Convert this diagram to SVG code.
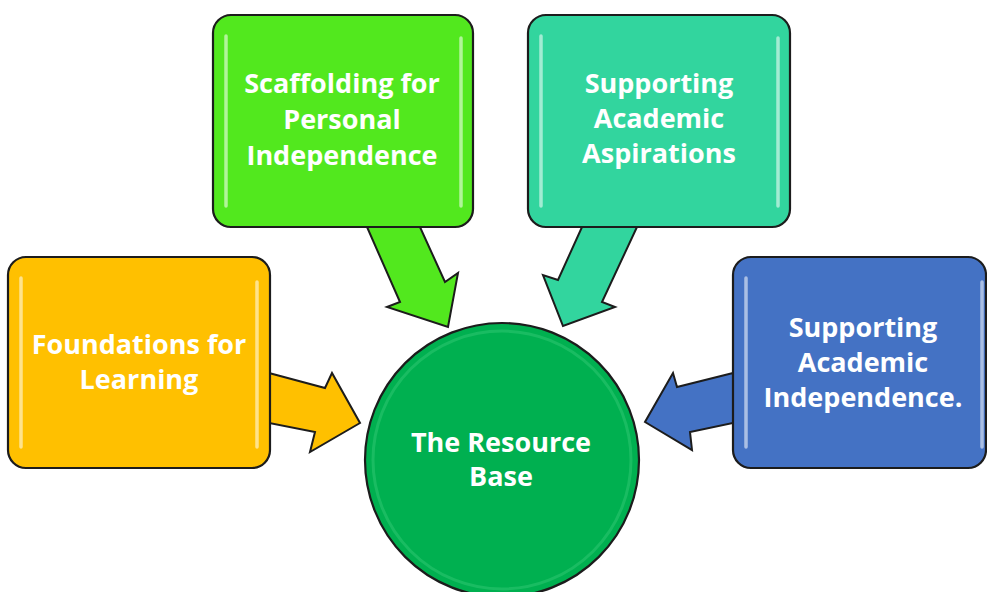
<svg xmlns="http://www.w3.org/2000/svg" width="987" height="592" viewBox="0 0 987 592">
<style>
.box{stroke:#1c1c1c;stroke-width:2.2}
.arrow{stroke:#1c1c1c;stroke-width:2;stroke-linejoin:miter}
.gloss{fill:none;stroke:#ffffff;stroke-opacity:0.55;stroke-width:3.5;stroke-linecap:round}
.lbl{font-family:"Open Sans","Liberation Sans",sans-serif;font-weight:bold;font-size:27px;fill:#ffffff;text-anchor:middle}
.orange{fill:#FFC000}
.lime{fill:#52E81E}
.teal{fill:#32D59E}
.blue{fill:#4472C4}
.green{fill:#00B050}
</style>
<rect width="987" height="592" fill="#ffffff"/>
<g id="connectors">
  <polygon class="arrow orange" points="269,373 325,388 332,373 360,423 310,452 315,432 269,423"/>
  <polygon class="arrow lime" points="367,227 420,227 445,282 458,273 448,327 387,307 400,302"/>
  <polygon class="arrow teal" points="582,227 637,227 602,302 615,307 563,326 543,275 558,280"/>
  <polygon class="arrow blue" points="733,373 677,387 673,373 645,422 692,450 690,432 733,423"/>
</g>
<g id="node-foundations">
  <rect class="box orange" x="8" y="257" width="262" height="211" rx="18"/>
  <line class="gloss" x1="21" y1="278" x2="21" y2="447"/>
  <line class="gloss" x1="257" y1="282" x2="257" y2="447"/>
  <text class="lbl" x="139" y="354">Foundations for</text>
  <text class="lbl" x="139" y="389">Learning</text>
</g>
<g id="node-scaffolding">
  <rect class="box lime" x="213" y="15" width="260" height="212" rx="18"/>
  <line class="gloss" x1="226" y1="36" x2="226" y2="206"/>
  <line class="gloss" x1="461" y1="38" x2="461" y2="206"/>
  <text class="lbl" x="342" y="93">Scaffolding for</text>
  <text class="lbl" x="342" y="129">Personal</text>
  <text class="lbl" x="342" y="165">Independence</text>
</g>
<g id="node-aspirations">
  <rect class="box teal" x="528" y="15" width="262" height="212" rx="18"/>
  <line class="gloss" x1="541" y1="36" x2="541" y2="206"/>
  <line class="gloss" x1="778" y1="38" x2="778" y2="206"/>
  <text class="lbl" x="659" y="93">Supporting</text>
  <text class="lbl" x="659" y="128">Academic</text>
  <text class="lbl" x="659" y="163">Aspirations</text>
</g>
<g id="node-independence">
  <rect class="box blue" x="733" y="257" width="253" height="211" rx="18"/>
  <line class="gloss" x1="746" y1="278" x2="746" y2="447"/>
  <line class="gloss" x1="982" y1="282" x2="982" y2="447"/>
  <text class="lbl" x="863" y="337">Supporting</text>
  <text class="lbl" x="863" y="372">Academic</text>
  <text class="lbl" x="863" y="407">Independence.</text>
</g>
<g id="node-resource-base">
  <circle class="box green" cx="502" cy="460" r="137"/>
  <circle cx="502" cy="460" r="129" fill="none" stroke="#7ff0a8" stroke-opacity="0.2" stroke-width="3"/>
  <text class="lbl" x="501" y="452">The Resource</text>
  <text class="lbl" x="501" y="486">Base</text>
</g>
</svg>
